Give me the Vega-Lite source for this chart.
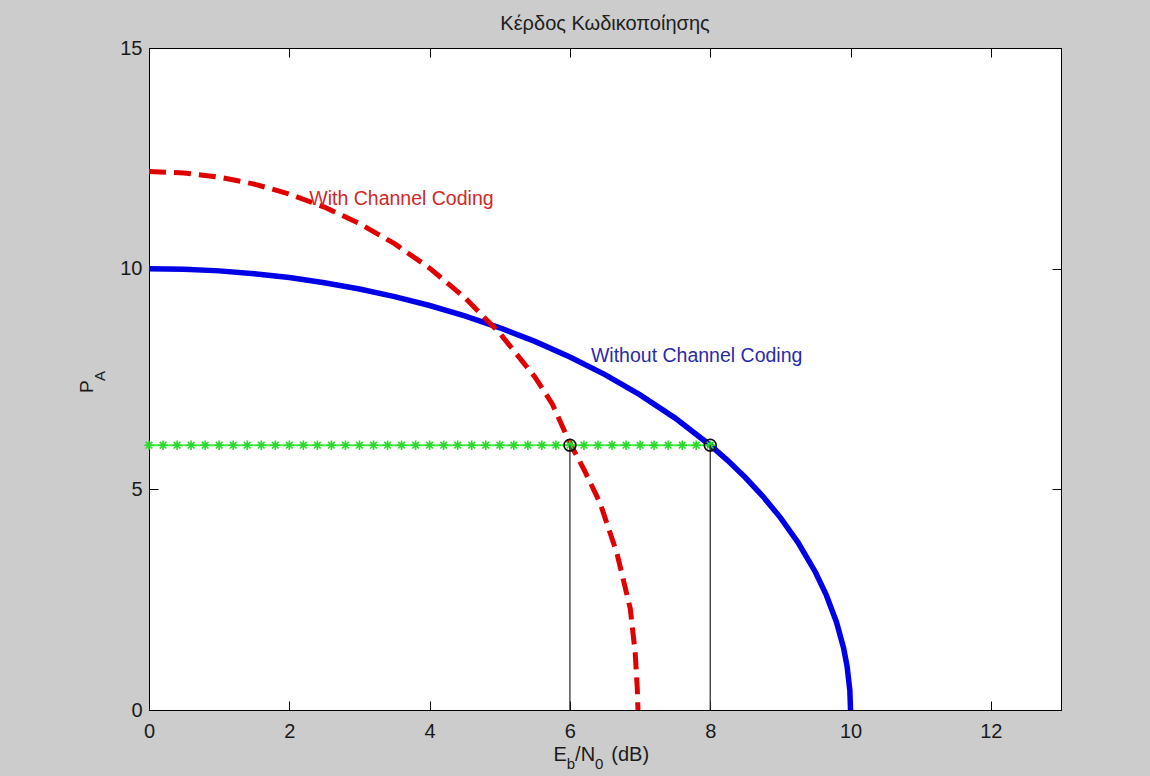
{
  "$schema": "https://vega.github.io/schema/vega-lite/v6.json",
  "width": 912,
  "height": 662,
  "autosize": "none",
  "padding": {"left": 149, "top": 48, "right": 89, "bottom": 66},
  "background": "#cccccc",
  "title": {"text": "Κέρδος Κωδικοποίησης", "fontSize": 20, "font": "Liberation Sans", "fontWeight": "normal", "color": "#202020", "anchor": "middle", "frame": "group", "baseline": "alphabetic", "offset": -12},
  "config": {
    "view": {"fill": "white", "stroke": "black", "strokeWidth": 1},
    "axis": {"grid": false, "domainColor": "black", "tickColor": "black", "tickSize": -9, "labelFlush": false, "labelFont": "Liberation Sans", "labelFontSize": 20, "labelColor": "#1a1a1a", "titleFont": "Liberation Sans"}
  },
  "datasets": {
    "blue": [
      {"x": 0, "y": 10}, {"x": 0.5, "y": 9.987}, {"x": 1, "y": 9.95}, {"x": 1.5, "y": 9.887}, {"x": 2, "y": 9.798},
      {"x": 2.5, "y": 9.682}, {"x": 3, "y": 9.539}, {"x": 3.5, "y": 9.367}, {"x": 4, "y": 9.165}, {"x": 4.5, "y": 8.93},
      {"x": 5, "y": 8.66}, {"x": 5.5, "y": 8.352}, {"x": 6, "y": 8.0}, {"x": 6.5, "y": 7.599}, {"x": 7, "y": 7.141},
      {"x": 7.5, "y": 6.614}, {"x": 8, "y": 6.0}, {"x": 8.25, "y": 5.651}, {"x": 8.5, "y": 5.268}, {"x": 8.75, "y": 4.841},
      {"x": 9, "y": 4.359}, {"x": 9.25, "y": 3.8}, {"x": 9.5, "y": 3.122}, {"x": 9.65, "y": 2.622}, {"x": 9.8, "y": 1.99},
      {"x": 9.9, "y": 1.411}, {"x": 9.95, "y": 0.999}, {"x": 9.99, "y": 0.447}, {"x": 10, "y": 0}
    ],
    "red": [
      {"x": 0, "y": 12.2}, {"x": 0.5, "y": 12.169}, {"x": 1, "y": 12.075}, {"x": 1.5, "y": 11.917}, {"x": 2, "y": 11.692},
      {"x": 2.5, "y": 11.395}, {"x": 3, "y": 11.023}, {"x": 3.5, "y": 10.566}, {"x": 4, "y": 10.012}, {"x": 4.5, "y": 9.345},
      {"x": 5, "y": 8.538}, {"x": 5.5, "y": 7.547}, {"x": 5.75, "y": 6.93}, {"x": 6, "y": 6.05}, {"x": 6.2, "y": 5.45},
      {"x": 6.43, "y": 4.69}, {"x": 6.67, "y": 3.55}, {"x": 6.86, "y": 2.3}, {"x": 6.93, "y": 1.3}, {"x": 6.96, "y": 0.5}, {"x": 6.97, "y": 0}
    ],
    "green": [
      {"x": 0, "y": 6}, {"x": 0.2, "y": 6}, {"x": 0.4, "y": 6}, {"x": 0.6, "y": 6}, {"x": 0.8, "y": 6},
      {"x": 1, "y": 6}, {"x": 1.2, "y": 6}, {"x": 1.4, "y": 6}, {"x": 1.6, "y": 6}, {"x": 1.8, "y": 6},
      {"x": 2, "y": 6}, {"x": 2.2, "y": 6}, {"x": 2.4, "y": 6}, {"x": 2.6, "y": 6}, {"x": 2.8, "y": 6},
      {"x": 3, "y": 6}, {"x": 3.2, "y": 6}, {"x": 3.4, "y": 6}, {"x": 3.6, "y": 6}, {"x": 3.8, "y": 6},
      {"x": 4, "y": 6}, {"x": 4.2, "y": 6}, {"x": 4.4, "y": 6}, {"x": 4.6, "y": 6}, {"x": 4.8, "y": 6},
      {"x": 5, "y": 6}, {"x": 5.2, "y": 6}, {"x": 5.4, "y": 6}, {"x": 5.6, "y": 6}, {"x": 5.8, "y": 6},
      {"x": 6, "y": 6}, {"x": 6.2, "y": 6}, {"x": 6.4, "y": 6}, {"x": 6.6, "y": 6}, {"x": 6.8, "y": 6},
      {"x": 7, "y": 6}, {"x": 7.2, "y": 6}, {"x": 7.4, "y": 6}, {"x": 7.6, "y": 6}, {"x": 7.8, "y": 6},
      {"x": 8, "y": 6}
    ],
    "marks": [{"x": 6, "y": 6}, {"x": 8, "y": 6}],
    "labels": [
      {"label": "With Channel Coding", "x": 2.285, "y": 11.44, "series": "With"},
      {"label": "Without Channel Coding", "x": 6.3, "y": 7.88, "series": "Without"}
    ]
  },
  "layer": [
    {
      "data": {"name": "blue"},
      "mark": {"type": "line", "color": "#0000e6", "strokeWidth": 5.5, "clip": true},
      "encoding": {
        "x": {"field": "x", "type": "quantitative", "scale": {"domain": [0, 13], "nice": false, "zero": false},
              "axis": {"values": [0, 2, 4, 6, 8, 10, 12], "labelPadding": 20, "title": null, "orient": "bottom"}},
        "y": {"field": "y", "type": "quantitative", "scale": {"domain": [0, 15], "nice": false, "zero": false},
              "axis": {"values": [0, 5, 10, 15], "labelPadding": 16, "title": null, "orient": "left"}}
      }
    },
    {
      "data": {"name": "red"},
      "mark": {"type": "line", "color": "#e00000", "strokeWidth": 5, "strokeDash": [17, 8], "clip": true},
      "encoding": {
        "x": {"field": "x", "type": "quantitative", "axis": null},
        "y": {"field": "y", "type": "quantitative", "axis": null}
      }
    },
    {
      "data": {"name": "green"},
      "mark": {"type": "line", "color": "#48ea48", "strokeWidth": 2},
      "encoding": {
        "x": {"field": "x", "type": "quantitative", "axis": null},
        "y": {"field": "y", "type": "quantitative", "axis": null}
      }
    },
    {
      "data": {"name": "green"},
      "mark": {"type": "point", "shape": "M-1,0L1,0M0,-1L0,1M-0.7,-0.7L0.7,0.7M-0.7,0.7L0.7,-0.7", "size": 90, "filled": false, "stroke": "#2ada2a", "strokeWidth": 1.6, "opacity": 1},
      "encoding": {
        "x": {"field": "x", "type": "quantitative", "axis": null},
        "y": {"field": "y", "type": "quantitative", "axis": null}
      }
    },
    {
      "data": {"name": "marks"},
      "mark": {"type": "rule", "color": "#222222", "strokeWidth": 1.2},
      "encoding": {
        "x": {"field": "x", "type": "quantitative", "axis": null},
        "y": {"field": "y", "type": "quantitative", "axis": null},
        "y2": {"datum": 0}
      }
    },
    {
      "data": {"name": "marks"},
      "mark": {"type": "point", "shape": "circle", "size": 140, "filled": false, "stroke": "#111111", "strokeWidth": 1.6, "opacity": 1},
      "encoding": {
        "x": {"field": "x", "type": "quantitative", "axis": {"orient": "top", "values": [0, 2, 4, 6, 8, 10, 12], "labels": false, "title": null}},
        "y": {"field": "y", "type": "quantitative", "axis": {"orient": "right", "values": [0, 5, 10, 15], "labels": false, "title": null}}
      }
    },
    {
      "data": {"name": "labels"},
      "transform": [{"filter": "datum.series === 'With'"}],
      "mark": {"type": "text", "align": "left", "baseline": "alphabetic", "font": "Liberation Sans", "fontSize": 19.5, "color": "#d02828"},
      "encoding": {
        "x": {"field": "x", "type": "quantitative", "axis": null},
        "y": {"field": "y", "type": "quantitative", "axis": null},
        "text": {"field": "label"}
      }
    },
    {
      "data": {"name": "labels"},
      "transform": [{"filter": "datum.series === 'Without'"}],
      "mark": {"type": "text", "align": "left", "baseline": "alphabetic", "font": "Liberation Sans", "fontSize": 19.5, "color": "#2a2aa8"},
      "encoding": {
        "x": {"field": "x", "type": "quantitative", "axis": null},
        "y": {"field": "y", "type": "quantitative", "axis": null},
        "text": {"field": "label"}
      }
    },
    {
      "data": {"values": [{}]},
      "mark": {"type": "text", "text": "E", "align": "left", "baseline": "alphabetic", "font": "Liberation Sans", "fontSize": 20, "color": "#1a1a1a", "clip": false},
      "encoding": {"x": {"datum": 5.766, "type": "quantitative", "axis": null}, "y": {"datum": -1.156, "type": "quantitative", "axis": null}}
    },
    {
      "data": {"values": [{}]},
      "mark": {"type": "text", "text": "b", "align": "left", "baseline": "alphabetic", "font": "Liberation Sans", "fontSize": 15, "color": "#1a1a1a", "clip": false},
      "encoding": {"x": {"datum": 5.956, "type": "quantitative", "axis": null}, "y": {"datum": -1.337, "type": "quantitative", "axis": null}}
    },
    {
      "data": {"values": [{}]},
      "mark": {"type": "text", "text": "/N", "align": "left", "baseline": "alphabetic", "font": "Liberation Sans", "fontSize": 20, "color": "#1a1a1a", "clip": false},
      "encoding": {"x": {"datum": 6.074, "type": "quantitative", "axis": null}, "y": {"datum": -1.156, "type": "quantitative", "axis": null}}
    },
    {
      "data": {"values": [{}]},
      "mark": {"type": "text", "text": "0", "align": "left", "baseline": "alphabetic", "font": "Liberation Sans", "fontSize": 15, "color": "#1a1a1a", "clip": false},
      "encoding": {"x": {"datum": 6.358, "type": "quantitative", "axis": null}, "y": {"datum": -1.337, "type": "quantitative", "axis": null}}
    },
    {
      "data": {"values": [{}]},
      "mark": {"type": "text", "text": "(dB)", "align": "left", "baseline": "alphabetic", "font": "Liberation Sans", "fontSize": 20, "color": "#1a1a1a", "clip": false},
      "encoding": {"x": {"datum": 6.59, "type": "quantitative", "axis": null}, "y": {"datum": -1.156, "type": "quantitative", "axis": null}}
    },
    {
      "data": {"values": [{}]},
      "mark": {"type": "text", "text": "P", "angle": 270, "align": "left", "baseline": "alphabetic", "font": "Liberation Sans", "fontSize": 19, "color": "#1a1a1a", "clip": false},
      "encoding": {"x": {"datum": -0.798, "type": "quantitative", "axis": null}, "y": {"datum": 7.183, "type": "quantitative", "axis": null}}
    },
    {
      "data": {"values": [{}]},
      "mark": {"type": "text", "text": "A", "angle": 270, "align": "left", "baseline": "alphabetic", "font": "Liberation Sans", "fontSize": 15, "color": "#1a1a1a", "clip": false},
      "encoding": {"x": {"datum": -0.627, "type": "quantitative", "axis": null}, "y": {"datum": 7.455, "type": "quantitative", "axis": null}}
    }
  ],
  "resolve": {"axis": {"x": "independent", "y": "independent"}}
}
